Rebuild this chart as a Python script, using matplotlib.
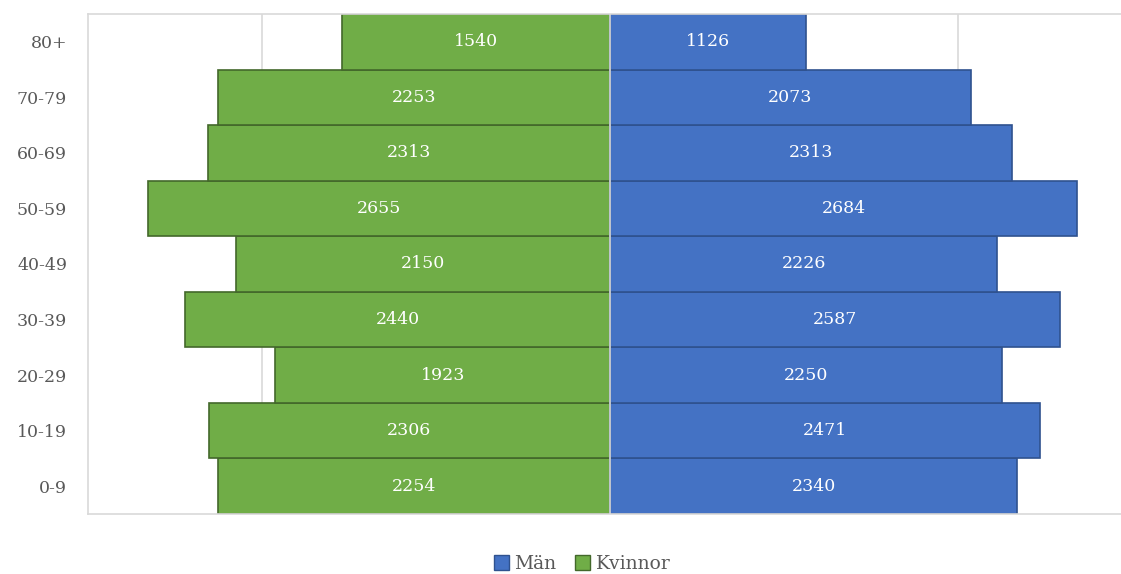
import matplotlib.pyplot as plt
from matplotlib.patches import Patch

ages = ['0-9', '10-19', '20-29', '30-39', '40-49', '50-59', '60-69', '70-79', '80+']
men = [2340, 2471, 2250, 2587, 2226, 2684, 2313, 2073, 1126]
women = [2254, 2306, 1923, 2440, 2150, 2655, 2313, 2253, 1540]

green = '#70AD47'
blue = '#4472C4'
font = 'DejaVu Serif'

fig = plt.figure(figsize=(11.21, 5.74), dpi=100)
ax = fig.add_axes([88 / 1121, 60 / 574, 1044 / 1121, 500 / 574])

y = range(len(ages))
ax.barh(y, [-w for w in women], height=1.0, color=green, edgecolor='#43682B', linewidth=1.2, zorder=2)
ax.barh(y, men, height=1.0, color=blue, edgecolor='#2F528F', linewidth=1.2, zorder=2)
ax.axvline(0, color='#D9D9D9', linewidth=1.2, zorder=3)

for i in y:
    ax.text(-women[i] / 2, i, str(women[i]), ha='center', va='center', color='white',
            fontsize=12.5, family=font, zorder=4)
    ax.text(men[i] / 2, i, str(men[i]), ha='center', va='center', color='white',
            fontsize=12.5, family=font, zorder=4)

ax.set_xlim(-3000, 3000)
ax.set_ylim(-0.5, len(ages) - 0.5)
ax.set_xticks([-2000, 2000])
ax.xaxis.grid(True, color='#D9D9D9', linewidth=1.2, zorder=0)
ax.tick_params(axis='x', length=0, labelbottom=False)
ax.tick_params(axis='y', length=0, pad=15, labelsize=12.5, labelcolor='#595959')
ax.set_yticks(list(y))
ax.set_yticklabels(ages, family=font)
for s in ax.spines.values():
    s.set_color('#D9D9D9')
    s.set_linewidth(1.2)

handles = [Patch(facecolor=blue, edgecolor='#2F528F'), Patch(facecolor=green, edgecolor='#43682B')]
fig.legend(handles, ['Män', 'Kvinnor'], loc='center', bbox_to_anchor=(582 / 1121, 1 - 564 / 574),
           ncol=2, frameon=False, handlelength=0.8, handleheight=0.8, handletextpad=0.3,
           columnspacing=1.0, prop={'family': font, 'size': 13.5}, labelcolor='#595959')

fig.savefig('out.png', dpi=100)
